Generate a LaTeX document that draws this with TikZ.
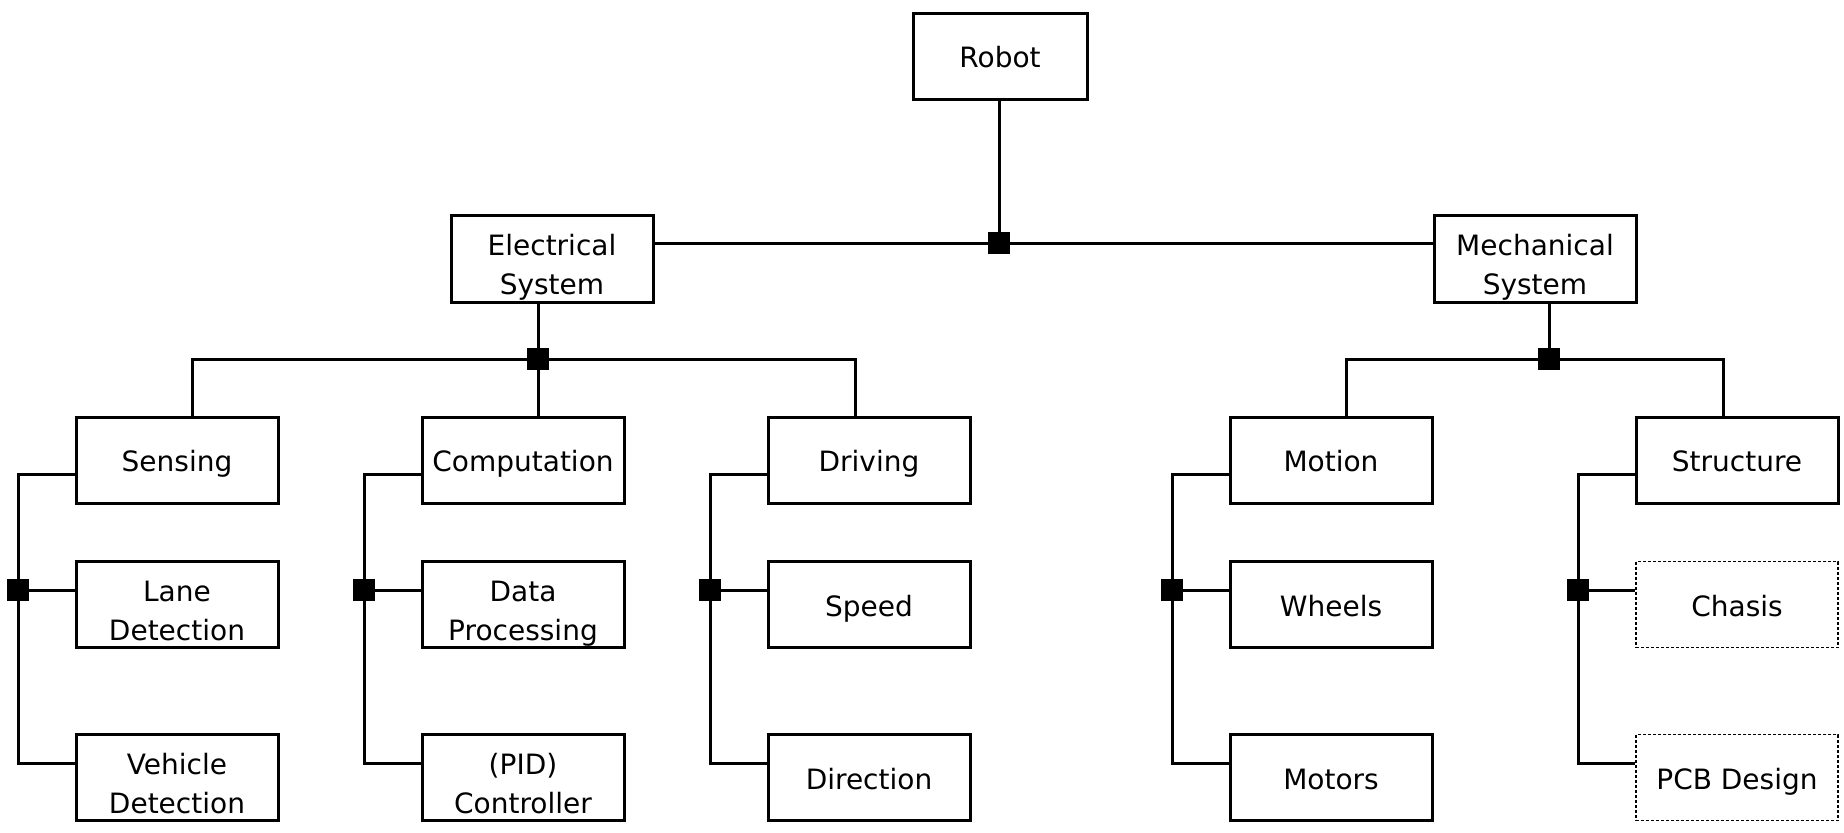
\documentclass[tikz,border=0pt]{standalone}
\usepackage{fontspec}
\setmainfont{DejaVu Sans}
\newcommand\one[1]{\makebox[0pt]{\raisebox{-5.85pt}[0pt][0pt]{#1}}}
\newcommand\two[2]{\makebox[0pt]{\raisebox{1.65pt}[0pt][0pt]{#1}}\makebox[0pt]{\raisebox{-17.85pt}[0pt][0pt]{#2}}}
\begin{document}
\begin{tikzpicture}[x=0.5pt,y=-0.5pt,
  box/.style={draw,line width=1.5pt,minimum width=101pt,minimum height=43pt,inner sep=0pt,font=\fontsize{14}{19.5}\selectfont},
  dbox/.style={box,line width=0.6pt,dash pattern=on 1.5pt off 1pt},
  jn/.style={fill=black,minimum size=11pt,inner sep=0pt},
  wire/.style={line width=1.5pt}]
\useasboundingbox (0,0) rectangle (1844,832);
% top levels
\node[box,minimum width=87pt] (robot) at (1000,56) {\one{Robot}};
\node[box,minimum height=43.5pt] (elec) at (552,258.5) {\two{Electrical}{System}};
\node[box,minimum height=43.5pt] (mech) at (1535,258.5) {\two{Mechanical}{System}};
% columns
\node[box] (sens)  at (177,460)   {\one{Sensing}};
\node[box] (lane)  at (177,604.5) {\two{Lane}{Detection}};
\node[box] (veh)   at (177,777.5) {\two{Vehicle}{Detection}};
\node[box] (comp)  at (523,460)   {\one{Computation}};
\node[box] (data)  at (523,604.5) {\two{Data}{Processing}};
\node[box] (pid)   at (523,777.5) {\two{(PID)}{Controller}};
\node[box] (drive) at (869,460)   {\one{Driving}};
\node[box] (speed) at (869,604.5) {\one{Speed}};
\node[box] (dir)   at (869,777.5) {\one{Direction}};
\node[box] (motion) at (1331,460)   {\one{Motion}};
\node[box] (wheels) at (1331,604.5) {\one{Wheels}};
\node[box] (motors) at (1331,777.5) {\one{Motors}};
\node[box] (struct) at (1737,460)   {\one{Structure}};
\node[dbox] (chasis) at (1737,604.5) {\one{Chasis}};
\node[dbox] (pcb)    at (1737,777.5) {\one{PCB Design}};
% level 1
\node[jn] (j0) at (999,243) {};
\draw[wire] (robot.south -| j0) -- (j0);
\draw[wire] (elec.east |- j0) -- (j0) -- (mech.west |- j0);
% electrical bus
\node[jn] (j1) at (538,359) {};
\coordinate (bL) at (192,359);
\coordinate (bR) at (855,359);
\draw[wire] (j1 |- elec.south) -- (j1) -- (j1 |- comp.north);
\draw[wire] (sens.north -| bL) -- (bL) -- (bR) -- (bR |- drive.north);
% mechanical bus
\node[jn] (j2) at (1549,359) {};
\coordinate (mL) at (1346,359);
\coordinate (mR) at (1723,359);
\draw[wire] (j2 |- mech.south) -- (j2);
\draw[wire] (motion.north -| mL) -- (mL) -- (mR) -- (mR |- struct.north);
% column side connectors
\foreach \t/\m/\b/\sx in {sens/lane/veh/18, comp/data/pid/364, drive/speed/dir/710, motion/wheels/motors/1172, struct/chasis/pcb/1578}{
  \coordinate (s1-\t) at (\sx,474);
  \coordinate (s2-\t) at (\sx,763);
  \node[jn] (k-\t) at (\sx,590) {};
  \draw[wire] (\t.west |- s1-\t) -- (s1-\t) -- (s2-\t) -- (\b.west |- s2-\t);
  \draw[wire] (k-\t) -- (\m.west |- k-\t);
}
\end{tikzpicture}
\end{document}
